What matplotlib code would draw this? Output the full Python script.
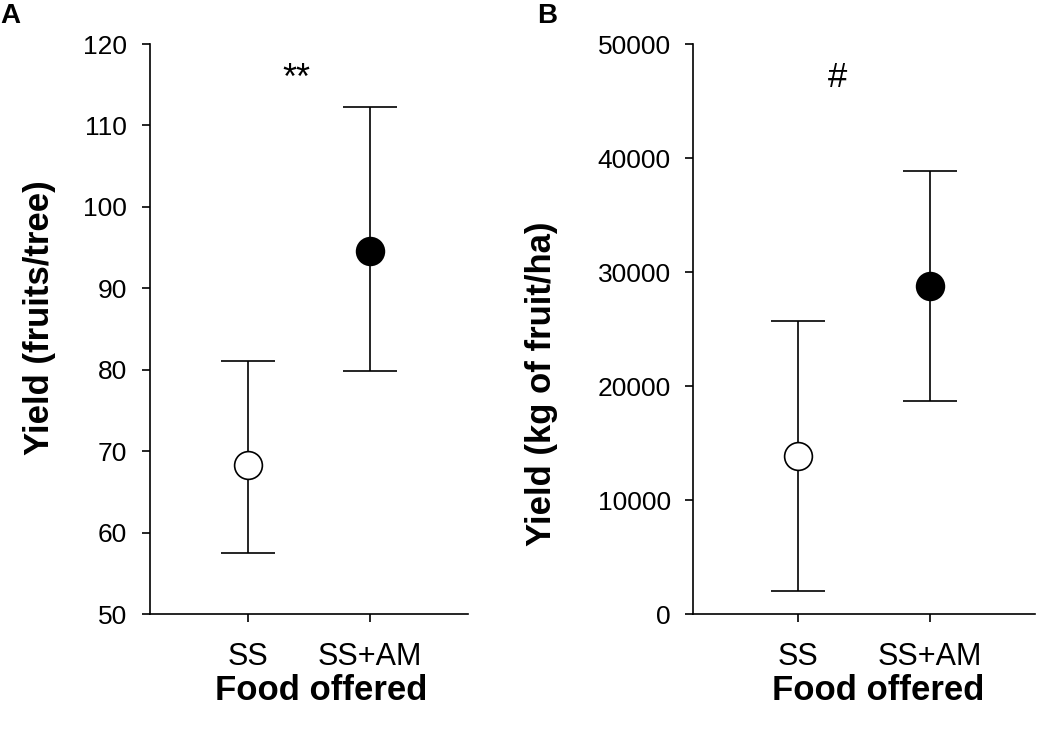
import matplotlib
matplotlib.use("Agg")
import matplotlib.pyplot as plt

plt.rcParams['font.family'] = ['Liberation Sans', 'DejaVu Sans']

categories = ["SS", "SS+AM"]
# Panel A: fruits/tree
a_means = [68.3, 94.6]
a_lower = [57.5, 79.8]
a_upper = [81.1, 112.3]
# Panel B: kg of fruit/ha
b_means = [13900, 28800]
b_lower = [2000, 18700]
b_upper = [25700, 38900]

W, H = 1039, 729
fig = plt.figure(figsize=(W / 100, H / 100), dpi=100)

def fx(px):
    return px / W

def fy(py):
    return 1 - py / H

def draw_panel(ax, means, lower, upper, ylim, yticks):
    xs = [1, 2]
    faces = ['white', 'black']
    for x, m, lo, up, fc in zip(xs, means, lower, upper, faces):
        ax.errorbar([x], [m], yerr=[[m - lo], [up - m]], fmt='none',
                    ecolor='black', elinewidth=1.2, capsize=19.5, capthick=1.2, zorder=2)
        ax.plot([x], [m], 'o', markersize=20, markerfacecolor=fc,
                markeredgecolor='black', markeredgewidth=1.2, zorder=3)
    ax.set_xlim(0.2, 2.8)
    ax.set_ylim(*ylim)
    ax.set_yticks(yticks)
    ax.set_xticks(xs)
    ax.set_xticklabels(categories, fontsize=22)
    ax.tick_params(axis='y', labelsize=19, direction='out', length=6, width=1.2, pad=10)
    ax.tick_params(axis='x', direction='out', length=6, width=1.2, pad=14)
    for s in ['top', 'right']:
        ax.spines[s].set_visible(False)
    for s in ['left', 'bottom']:
        ax.spines[s].set_linewidth(1.2)

axA = fig.add_axes([fx(149.5), fy(614), fx(468) - fx(149.5), fy(44) - fy(614)])
draw_panel(axA, a_means, a_lower, a_upper, (50, 120), [50, 60, 70, 80, 90, 100, 110, 120])
axA.text(1.4, 115.6, "**", fontsize=26, ha='center', va='center')

axB = fig.add_axes([fx(693), fy(614), fx(1035) - fx(693), fy(44) - fy(614)])
draw_panel(axB, b_means, b_lower, b_upper, (0, 50000), [0, 10000, 20000, 30000, 40000, 50000])
axB.text(1.3, 47100, "#", fontsize=25, ha='center', va='center')

fig.text(fx(40), fy(318), "Yield (fruits/tree)", rotation=90, fontsize=25,
         fontweight='bold', ha='center', va='center')
fig.text(fx(541), fy(384), "Yield (kg of fruit/ha)", rotation=90, fontsize=25,
         fontweight='bold', ha='center', va='center')
fig.text(fx(321), fy(690), "Food offered", fontsize=25, fontweight='bold',
         ha='center', va='center')
fig.text(fx(878), fy(690), "Food offered", fontsize=25, fontweight='bold',
         ha='center', va='center')

fig.text(fx(0), fy(16), "A", fontsize=20, fontweight='bold', ha='left', va='center')
fig.text(fx(537), fy(16), "B", fontsize=20, fontweight='bold', ha='left', va='center')

fig.savefig("out.png", dpi=100)
